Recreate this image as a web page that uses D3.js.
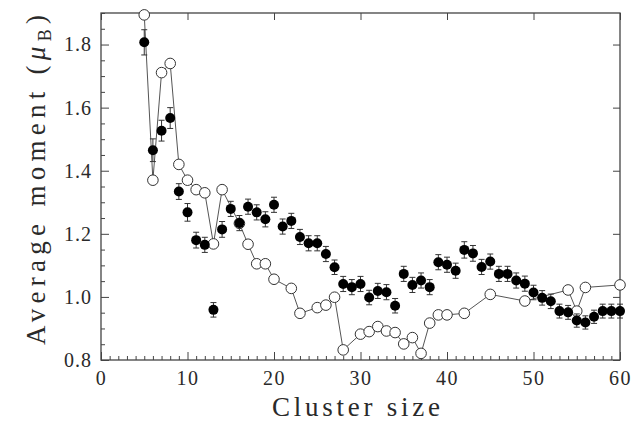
<!DOCTYPE html>
<html>
<head>
<meta charset="utf-8">
<script src="https://cdn.jsdelivr.net/npm/d3@7"></script>
<style>
  html, body { margin: 0; padding: 0; background: #fff; }
  svg { display: block; }
  text { font-family: "Liberation Serif", "DejaVu Serif", serif; fill: #2a2a2a; }
</style>
</head>
<body>
<svg id="chart" width="632" height="426"></svg>
<script>
// ---- data ----
const filledSizes = [5,6,7,8,9,10,11,12,13,14,15,16,17,18,19,20,21,22,23,24,25,26,27,28,29,30,31,32,33,34,35,36,37,38,39,40,41,42,43,44,45,46,47,48,49,50,51,52,53,54,55,56,57,58,59,60];
const filledValues = [1.807,1.465,1.527,1.567,1.334,1.268,1.180,1.165,0.959,1.214,1.279,1.234,1.286,1.268,1.246,1.292,1.223,1.241,1.190,1.170,1.170,1.136,1.094,1.041,1.031,1.041,0.998,1.019,1.015,0.972,1.073,1.038,1.052,1.031,1.110,1.102,1.083,1.149,1.138,1.095,1.112,1.073,1.073,1.052,1.042,1.014,0.997,0.986,0.955,0.951,0.925,0.919,0.937,0.955,0.955,0.955];
const filledErrors = [0.040,0.036,0.033,0.033,0.025,0.028,0.025,0.024,0.023,0.025,0.024,0.024,0.024,0.024,0.024,0.024,0.024,0.024,0.024,0.024,0.024,0.024,0.023,0.024,0.024,0.024,0.023,0.024,0.024,0.023,0.024,0.024,0.024,0.024,0.024,0.024,0.024,0.026,0.025,0.024,0.024,0.024,0.024,0.024,0.024,0.023,0.023,0.023,0.022,0.022,0.021,0.021,0.021,0.022,0.022,0.022];

const openSizes = [5,6,7,8,9,10,11,12,13,14,16,17,18,19,20,22,23,25,26,27,28,30,31,32,33,34,35,36,37,38,39,40,42,45,49,54,55,56,60];
const openValues = [1.894,1.370,1.711,1.740,1.420,1.370,1.340,1.330,1.168,1.340,1.233,1.167,1.105,1.105,1.056,1.027,0.948,0.966,0.974,0.999,0.832,0.882,0.890,0.906,0.892,0.887,0.851,0.871,0.821,0.917,0.943,0.943,0.948,1.008,0.987,1.022,0.955,1.030,1.038];

const xTickValues = [0,10,20,30,40,50,60];
const yTickValues = [0.8,1.0,1.2,1.4,1.6,1.8];
const xTitle = "Cluster size";
const yTitleMain = "Average moment (";
const yTitleSymbol = "μ";
const yTitleSub = "B";
const yTitleEnd = ")";

// ---- layout ----
const svg = d3.select("#chart");
const mLeft = 101, mRight = 620, mTop = 13, mBottom = 360;
const x = d3.scaleLinear().domain([0, 60]).range([mLeft, mRight]);
const y = d3.scaleLinear().domain([0.8, 1.9]).range([mBottom, mTop]);
const axisColor = "#444";

// frame
svg.append("rect")
  .attr("x", mLeft).attr("y", mTop)
  .attr("width", mRight - mLeft).attr("height", mBottom - mTop)
  .attr("fill", "none").attr("stroke", axisColor).attr("stroke-width", 1.3);

// bottom axis: minor ticks every 1, major every 10, inward
const xMinor = d3.range(0, 61, 1);
const gB = svg.append("g").attr("transform", `translate(0,${mBottom})`)
  .call(d3.axisBottom(x).tickValues(xMinor).tickSize(-4).tickFormat(""));
gB.select(".domain").remove();
gB.selectAll(".tick line").attr("stroke", axisColor).attr("stroke-width", 1)
  .attr("y2", d => (d % 10 === 0 ? -8 : -4));
const gB2 = svg.append("g").attr("transform", `translate(0,${mBottom})`)
  .call(d3.axisBottom(x).tickValues(xTickValues).tickSize(0).tickPadding(11).tickFormat(d3.format("d")));
gB2.select(".domain").remove();
gB2.selectAll("text").style("font-size", "20px").style("letter-spacing", "1.5px")
  .attr("font-family", "Liberation Serif").attr("fill", "#2a2a2a");

// top axis: major only, inward
const gT = svg.append("g").attr("transform", `translate(0,${mTop})`)
  .call(d3.axisTop(x).tickValues(xTickValues).tickSize(-7).tickFormat(""));
gT.select(".domain").remove();
gT.selectAll(".tick line").attr("stroke", axisColor);

// left axis: minor every 0.05, major every 0.2
const yMinor = d3.range(0, 23).map(i => +(0.8 + i * 0.05).toFixed(2));
const gL = svg.append("g").attr("transform", `translate(${mLeft},0)`)
  .call(d3.axisLeft(y).tickValues(yMinor).tickSize(-4).tickFormat(""));
gL.select(".domain").remove();
gL.selectAll(".tick line").attr("stroke", axisColor)
  .attr("x2", d => (Math.abs(((d - 0.8) / 0.2) - Math.round((d - 0.8) / 0.2)) < 1e-6 ? 8 : 4));
const gL2 = svg.append("g").attr("transform", `translate(${mLeft},0)`)
  .call(d3.axisLeft(y).tickValues(yTickValues).tickSize(0).tickPadding(9).tickFormat(d3.format(".1f")));
gL2.select(".domain").remove();
gL2.selectAll("text").style("font-size", "20px").style("letter-spacing", "1px")
  .attr("font-family", "Liberation Serif").attr("fill", "#2a2a2a");

// right axis: major only
const gR = svg.append("g").attr("transform", `translate(${mRight},0)`)
  .call(d3.axisRight(y).tickValues(yTickValues).tickSize(-7).tickFormat(""));
gR.select(".domain").remove();
gR.selectAll(".tick line").attr("stroke", axisColor);

// titles
svg.append("text")
  .attr("x", 272).attr("y", 416)
  .attr("textLength", 168).attr("lengthAdjust", "spacing")
  .style("font-size", "27px")
  .text(xTitle);

const yt = svg.append("text")
  .attr("transform", `translate(45,345) rotate(-90)`)
  .attr("textLength", 330).attr("lengthAdjust", "spacing")
  .style("font-size", "27px");
yt.append("tspan").text(yTitleMain);
yt.append("tspan").style("font-style", "italic").text(yTitleSymbol);
yt.append("tspan").attr("dy", 6).style("font-size", "18px").text(yTitleSub);
yt.append("tspan").attr("dy", -6).text(yTitleEnd);

// open series: line + circles
const openData = openSizes.map((s, i) => ({ s, v: openValues[i] }));
svg.append("path")
  .datum(openData)
  .attr("fill", "none").attr("stroke", "#555").attr("stroke-width", 1)
  .attr("d", d3.line().x(d => x(d.s)).y(d => y(d.v)));
svg.append("g").selectAll("circle").data(openData).join("circle")
  .attr("cx", d => x(d.s)).attr("cy", d => y(d.v)).attr("r", 5.3)
  .attr("fill", "#fff").attr("stroke", "#333").attr("stroke-width", 1);

// filled series with error bars
const filledData = filledSizes.map((s, i) => ({ s, v: filledValues[i], e: filledErrors[i] }));
const eb = svg.append("g").attr("stroke", "#333").attr("stroke-width", 1);
filledData.forEach(d => {
  eb.append("line").attr("x1", x(d.s)).attr("x2", x(d.s)).attr("y1", y(d.v - d.e)).attr("y2", y(d.v + d.e));
  eb.append("line").attr("x1", x(d.s) - 3).attr("x2", x(d.s) + 3).attr("y1", y(d.v + d.e)).attr("y2", y(d.v + d.e));
  eb.append("line").attr("x1", x(d.s) - 3).attr("x2", x(d.s) + 3).attr("y1", y(d.v - d.e)).attr("y2", y(d.v - d.e));
});
svg.append("g").selectAll("circle").data(filledData).join("circle")
  .attr("cx", d => x(d.s)).attr("cy", d => y(d.v)).attr("r", 5)
  .attr("fill", "#000");
</script>
</body>
</html>
